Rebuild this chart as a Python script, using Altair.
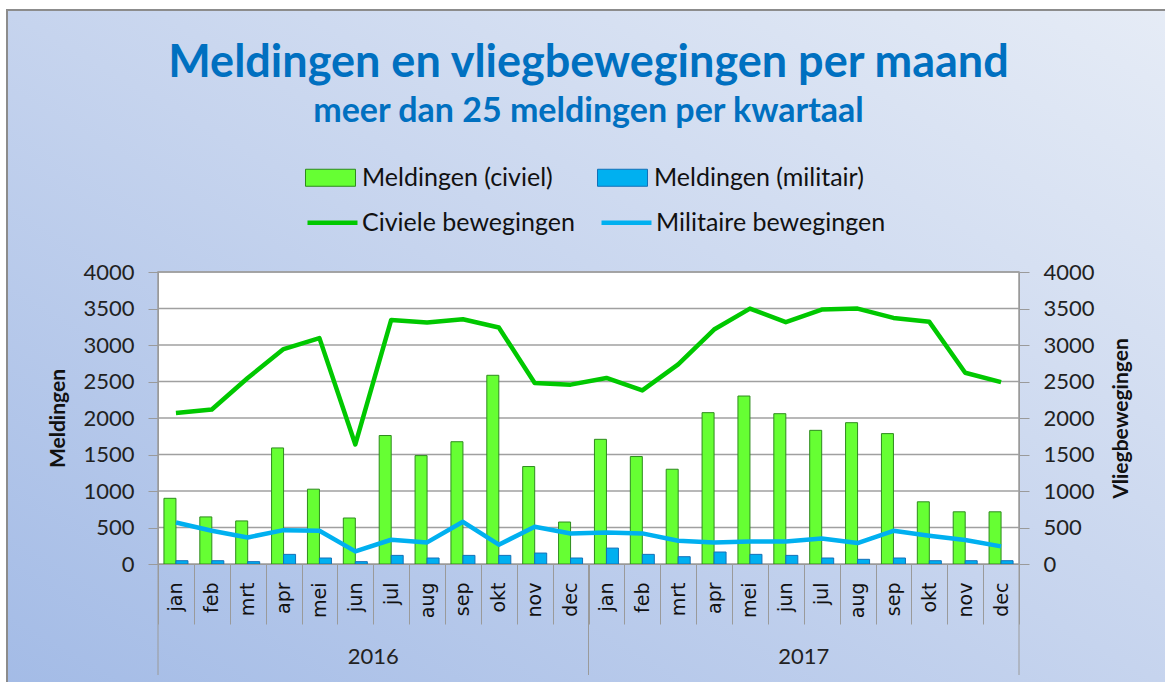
import altair as alt
import pandas as pd

years = ["2016", "2017"]
months = ["jan", "feb", "mrt", "apr", "mei", "jun", "jul", "aug", "sep", "okt", "nov", "dec"]

civiel_meldingen = [900, 645, 590, 1590, 1025, 630, 1760, 1485, 1675, 2585, 1335, 575,
                    1708, 1472, 1298, 2073, 2301, 2059, 1831, 1936, 1786, 852, 715, 715]
militair_meldingen = [45, 45, 32, 132, 82, 32, 118, 82, 118, 118, 150, 82,
                      218, 132, 100, 164, 132, 118, 82, 64, 82, 45, 45, 45]
civiele_bewegingen = [2070, 2116, 2548, 2944, 3094, 1638, 3344, 3308, 3353, 3240, 2480, 2457,
                      2548, 2378, 2734, 3212, 3499, 3312, 3485, 3499, 3371, 3317, 2620, 2492]
militaire_bewegingen = [569, 455, 364, 464, 455, 173, 332, 296, 578, 264, 510, 419,
                        432, 419, 318, 296, 309, 309, 350, 287, 455, 387, 328, 241]
y_ticks = [0, 500, 1000, 1500, 2000, 2500, 3000, 3500, 4000]

W, H = 861, 292
keys = [f"{y}-{m}" for y in years for m in months]

bar_df = pd.DataFrame({
    "key": keys * 2,
    "serie": ["Meldingen (civiel)"] * 24 + ["Meldingen (militair)"] * 24,
    "waarde": civiel_meldingen + militair_meldingen,
})
line_df = pd.DataFrame({
    "key": keys * 2,
    "lijn": ["Civiele bewegingen"] * 24 + ["Militaire bewegingen"] * 24,
    "waarde": civiele_bewegingen + militaire_bewegingen,
})
grid_df = pd.DataFrame({"v": y_ticks[1:]})
year_df = pd.DataFrame({"key": [f"{y}-jun" for y in years], "jaar": years})
sep_df = pd.DataFrame({"key": [f"{y}-jan" for y in years]})
sep_end_df = pd.DataFrame({"key": [keys[-1]]})

xscale = alt.Scale(domain=keys, paddingInner=0, paddingOuter=0)
xaxis = alt.Axis(
    title=None, tickBand="extent", tickSize=60, tickColor="#9a9a9a", domainColor="#9a9a9a",
    labelAngle=270, labelExpr="split(datum.value, '-')[1]", labelFont="DejaVu Sans",
    labelFontSize=19, labelColor="#111111", labelPadding=-42, zindex=1,
)
X = alt.X("key:N", scale=xscale, axis=xaxis)

yscale_l = alt.Scale(domain=[0, 4000], nice=False)
yaxis_l = alt.Axis(
    title="Meldingen", values=y_ticks, format="d", orient="left", grid=False, tickSize=10,
    tickColor="#9a9a9a", domainColor="#9a9a9a", labelFont="Lato", labelFontSize=22,
    labelColor="#222222", labelPadding=14, titleFont="Lato", titleFontSize=21,
    titleFontWeight="bold", titleColor="#111111", titlePadding=14, zindex=1,
)
yaxis_r = alt.Axis(
    title="Vliegbewegingen", values=y_ticks, format="d", orient="right", grid=False,
    tickSize=10, tickColor="#9a9a9a", domainColor="#9a9a9a", labelFont="Lato",
    labelFontSize=22, labelColor="#222222", labelPadding=14, titleFont="Lato",
    titleFontSize=21, titleFontWeight="bold", titleColor="#111111", titlePadding=16,
    titleAngle=270, titleBaseline="top", zindex=1,
)

bg = alt.Chart(pd.DataFrame({"a": [0]})).mark_rect(
    fill=alt.LinearGradient(
        gradient="linear", x1=0, y1=1, x2=1, y2=0,
        stops=[alt.GradientStop(color="#a3bbe6", offset=0),
               alt.GradientStop(color="#c6d4ee", offset=0.5),
               alt.GradientStop(color="#e6ecf6", offset=1)],
    ),
    stroke="#8c8c8c", strokeWidth=2,
).encode(x=alt.value(-151), x2=alt.value(1020), y=alt.value(-262), y2=alt.value(420))

plot_bg = alt.Chart(pd.DataFrame({"a": [0]})).mark_rect(
    fill="white", stroke="#9a9a9a", strokeWidth=1.5
).encode(x=alt.value(0), x2=alt.value(W), y=alt.value(0), y2=alt.value(H))

grid = alt.Chart(grid_df).mark_rule(color="#a0a0a0", strokeWidth=1.5).encode(
    x=alt.value(0), x2=alt.value(W), y=alt.Y("v:Q", scale=yscale_l, axis=yaxis_l)
)

fill_scale = alt.Scale(domain=["Meldingen (civiel)", "Meldingen (militair)"],
                       range=["#66ff33", "#00b0f0"])
stroke_scale = alt.Scale(domain=["Meldingen (civiel)", "Meldingen (militair)"],
                         range=["#2e8b1e", "#1370b8"])
bar_legend = alt.Legend(
    title=None, orient="none", legendX=147, legendY=-120, direction="horizontal",
    columns=2, columnPadding=42, symbolType="M-1,-0.34H1V0.34H-1Z", symbolSize=2500,
    symbolStrokeWidth=1, labelFont="Lato", labelFontSize=25, labelColor="#111111",
    labelOffset=6, labelLimit=400, padding=0, zindex=1,
)

def bar_layer(serie, offset):
    return alt.Chart(bar_df).transform_filter(alt.datum.serie == serie).mark_bar(
        size=12, xOffset=offset, strokeWidth=1
    ).encode(
        x=X,
        y=alt.Y("waarde:Q", scale=yscale_l, axis=yaxis_l, stack=None),
        fill=alt.Fill("serie:N", scale=fill_scale, legend=bar_legend),
        stroke=alt.Stroke("serie:N", scale=stroke_scale, legend=bar_legend),
    )

bars_c = bar_layer("Meldingen (civiel)", -6)
bars_m = bar_layer("Meldingen (militair)", 6)

seps = alt.Chart(sep_df).mark_rule(color="#9a9a9a", strokeWidth=1).encode(
    x=alt.X("key:N", scale=xscale, axis=xaxis, bandPosition=0),
    y=alt.value(H), y2=alt.value(H + 111),
)
sep_end = alt.Chart(sep_end_df).mark_rule(color="#9a9a9a", strokeWidth=1).encode(
    x=alt.X("key:N", scale=xscale, axis=xaxis, bandPosition=1),
    y=alt.value(H), y2=alt.value(H + 111),
)
year_text = alt.Chart(year_df).mark_text(
    font="Lato", fontSize=22, color="#222222", baseline="middle"
).encode(
    x=alt.X("key:N", scale=xscale, axis=xaxis, bandPosition=1),
    y=alt.value(H + 93), text="jaar:N",
)

left = alt.layer(bg, plot_bg, grid, bars_c, bars_m, seps, sep_end, year_text)

lines = alt.Chart(line_df).mark_line(strokeWidth=4.5, strokeJoin="round").encode(
    x=X,
    y=alt.Y("waarde:Q", scale=alt.Scale(domain=[0, 4000], nice=False), axis=yaxis_r),
    color=alt.Color(
        "lijn:N",
        scale=alt.Scale(domain=["Civiele bewegingen", "Militaire bewegingen"],
                        range=["#00c800", "#00b0f0"]),
        legend=alt.Legend(
            title=None, orient="none", legendX=147, legendY=-77, direction="horizontal",
            columns=2, columnPadding=17, symbolType="stroke", symbolSize=2500,
            symbolStrokeWidth=4.5, labelFont="Lato", labelFontSize=25, labelColor="#111111",
            labelOffset=2, labelLimit=400, padding=0, zindex=1,
        ),
    ),
)

chart = alt.layer(left, lines).resolve_scale(y="independent").properties(
    width=W, height=H,
    autosize=alt.AutoSizeParams(type="none"),
    padding={"left": 158, "top": 272, "right": 146, "bottom": 118},
    title=alt.TitleParams(
        text="Meldingen en vliegbewegingen per maand",
        subtitle="meer dan 25 meldingen per kwartaal",
        font="Lato", fontSize=45, fontWeight="bold", color="#0070c0",
        subtitleFont="Lato", subtitleFontSize=34, subtitleFontWeight="bold",
        subtitleColor="#0070c0", subtitlePadding=9,
        anchor="middle", frame="group", offset=-120, zindex=1,
    ),
).configure_view(strokeWidth=0)

chart.save("out.html", embed_options={"renderer": "svg", "actions": False})
